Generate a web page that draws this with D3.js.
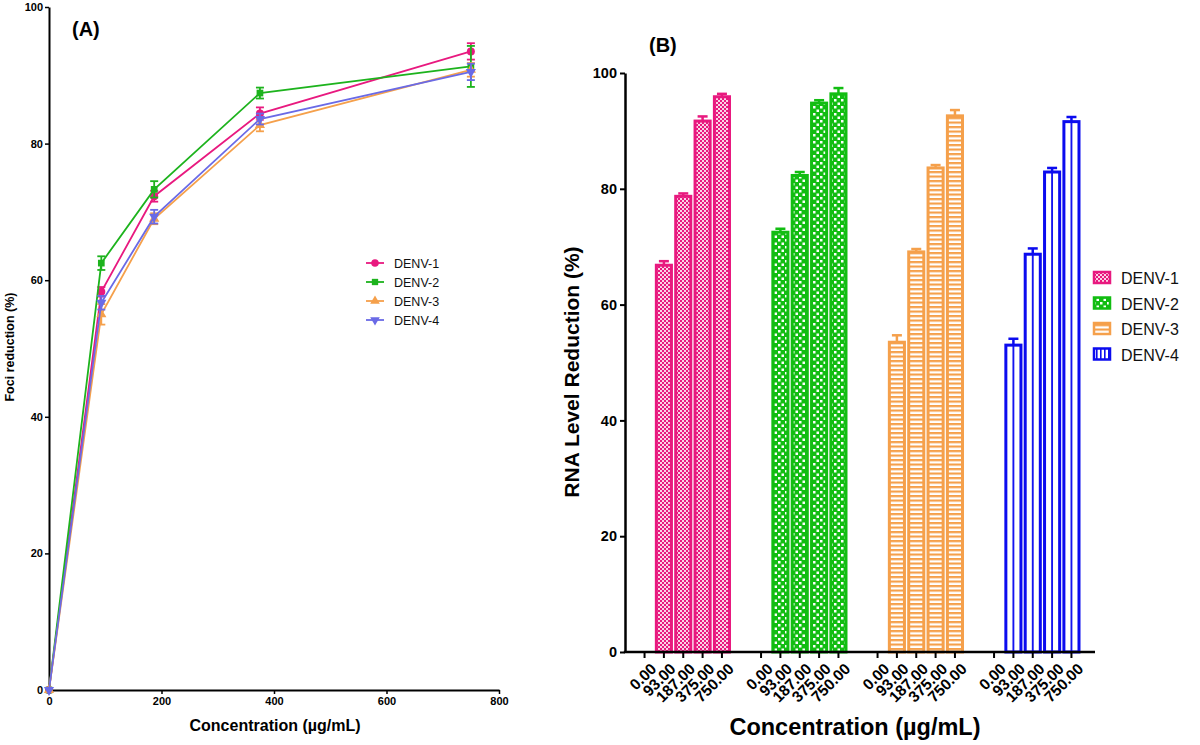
<!DOCTYPE html>
<html>
<head>
<meta charset="utf-8">
<script src="https://cdn.jsdelivr.net/npm/d3@7"></script>
<style>
  body { margin: 0; background: #fff; }
  svg { display: block; font-family: "Liberation Sans", Arial, Helvetica, sans-serif; }
</style>
</head>
<body>
<svg id="chart" width="1200" height="745"></svg>
<script>
// ---------- DATA ----------
const seriesNames = ["DENV-1", "DENV-2", "DENV-3", "DENV-4"];

// Panel A: foci reduction vs concentration
const concA = [0, 93, 187, 375, 750];
const fociDENV1 = [0, 58.3, 72.3, 84.4, 93.5];
const fociDENV2 = [0, 62.5, 73.3, 87.4, 91.3];
const fociDENV3 = [0, 55.0, 69.0, 82.7, 90.8];
const fociDENV4 = [0, 56.7, 69.3, 83.6, 90.5];
const fociErr1 = [0, 0.7, 0.8, 0.9, 1.2];
const fociErr2 = [0, 1.0, 1.2, 0.8, 3.0];
const fociErr3 = [0, 1.5, 0.8, 0.9, 1.0];
const fociErr4 = [0, 1.0, 1.0, 0.8, 1.2];
const xTicksA = [0, 200, 400, 600, 800];
const yTicksA = [0, 20, 40, 60, 80, 100];

// Panel B: RNA level reduction
const concLabels = ["0.00", "93.00", "187.00", "375.00", "750.00"];
const rnaDENV1 = [0, 66.8, 78.7, 91.7, 95.9];
const rnaDENV2 = [0, 72.5, 82.3, 94.8, 96.4];
const rnaDENV3 = [0, 53.5, 69.1, 83.6, 92.6];
const rnaDENV4 = [0, 53.0, 68.7, 82.9, 91.6];
const rnaErr1 = [0, 0.7, 0.5, 0.8, 0.5];
const rnaErr2 = [0, 0.6, 0.6, 0.5, 1.0];
const rnaErr3 = [0, 1.2, 0.5, 0.5, 1.0];
const rnaErr4 = [0, 1.1, 1.0, 0.7, 0.8];
const yTicksB = [0, 20, 40, 60, 80, 100];

const colorsA = ["#e8197f", "#1db31d", "#f5a04b", "#6a6ae6"];
const colorsB = ["#e8197f", "#12bd12", "#f5a04b", "#0b0bef"];
const symbolsA = [d3.symbolCircle, d3.symbolSquare, d3.symbolTriangle, d3.symbolTriangle];

const svg = d3.select("#chart");
const font = "'Liberation Sans', Arial, Helvetica, sans-serif";

// ---------- PANEL A ----------
const xA = d3.scaleLinear().domain([0, 800]).range([49, 499]);
const yA = d3.scaleLinear().domain([0, 100]).range([690, 7]);

const gA = svg.append("g");
const axA_x = gA.append("g").attr("transform", `translate(0,${yA(0)})`)
  .call(d3.axisBottom(xA).tickValues(xTicksA).tickSize(4).tickSizeOuter(0).tickPadding(3));
const axA_y = gA.append("g").attr("transform", `translate(${xA(0)},0)`)
  .call(d3.axisLeft(yA).tickValues(yTicksA).tickSize(4).tickSizeOuter(0).tickPadding(2));
[axA_x, axA_y].forEach(a => {
  a.select(".domain").attr("stroke", "#000").attr("stroke-width", 2);
  a.selectAll(".tick line").attr("stroke", "#000").attr("stroke-width", 1.5);
  a.selectAll("text").attr("font-family", font).attr("font-weight", "bold").attr("font-size", 11).attr("fill", "#000");
});

const fociSeries = [fociDENV1, fociDENV2, fociDENV3, fociDENV4];
const fociErrs = [fociErr1, fociErr2, fociErr3, fociErr4];
const lineA = d3.line().x((d, i) => xA(concA[i])).y(d => yA(d));

fociSeries.forEach((vals, s) => {
  const g = gA.append("g");
  g.append("path").datum(vals).attr("d", lineA).attr("fill", "none")
    .attr("stroke", colorsA[s]).attr("stroke-width", 1.8);
  vals.forEach((v, i) => {
    const e = fociErrs[s][i];
    if (e > 0) {
      const x = xA(concA[i]);
      g.append("line").attr("x1", x).attr("x2", x).attr("y1", yA(v - e)).attr("y2", yA(v + e))
        .attr("stroke", colorsA[s]).attr("stroke-width", 1.8);
      [v - e, v + e].forEach(c => g.append("line").attr("x1", x - 4).attr("x2", x + 4)
        .attr("y1", yA(c)).attr("y2", yA(c)).attr("stroke", colorsA[s]).attr("stroke-width", 1.8));
    }
  });
  g.selectAll("path.sym").data(vals).enter().append("path").attr("class", "sym")
    .attr("d", d3.symbol().type(symbolsA[s]).size(s === 0 ? 50 : 45))
    .attr("transform", (d, i) => `translate(${xA(concA[i])},${yA(d)})${s === 3 ? " rotate(180)" : ""}`)
    .attr("fill", colorsA[s]);
});

gA.append("text").attr("x", 72).attr("y", 36).attr("font-family", font)
  .attr("font-weight", "bold").attr("font-size", 20).text("(A)");
gA.append("text").attr("x", 275).attr("y", 731).attr("text-anchor", "middle").attr("font-family", font)
  .attr("font-weight", "bold").attr("font-size", 16).text("Concentration (µg/mL)");
gA.append("text").attr("transform", "translate(14,347) rotate(-90)").attr("text-anchor", "middle")
  .attr("font-family", font).attr("font-weight", "bold").attr("font-size", 12.5).text("Foci reduction (%)");

// legend A
const legA = gA.append("g");
seriesNames.forEach((n, s) => {
  const y = 263 + s * 19;
  legA.append("line").attr("x1", 366).attr("x2", 384).attr("y1", y).attr("y2", y)
    .attr("stroke", colorsA[s]).attr("stroke-width", 1.8);
  legA.append("path").attr("d", d3.symbol().type(symbolsA[s]).size(s === 0 ? 45 : 40))
    .attr("transform", `translate(375,${y})${s === 3 ? " rotate(180)" : ""}`).attr("fill", colorsA[s]);
  legA.append("text").attr("x", 394).attr("y", y + 4.5).attr("font-family", font)
    .attr("font-size", 12.5).attr("fill", "#111").text(n);
});

// ---------- PANEL B ----------
const defs = svg.append("defs");
const p1 = defs.append("pattern").attr("id", "pat1").attr("patternUnits", "userSpaceOnUse").attr("width", 4).attr("height", 4);
p1.append("rect").attr("width", 4).attr("height", 4).attr("fill", "#fbd3e6");
p1.append("rect").attr("width", 2).attr("height", 2).attr("fill", colorsB[0]);
p1.append("rect").attr("x", 2).attr("y", 2).attr("width", 2).attr("height", 2).attr("fill", colorsB[0]);
const p2 = defs.append("pattern").attr("id", "pat2").attr("patternUnits", "userSpaceOnUse").attr("width", 7).attr("height", 7);
p2.append("rect").attr("width", 7).attr("height", 7).attr("fill", colorsB[1]);
p2.append("rect").attr("x", 1).attr("y", 1).attr("width", 2.5).attr("height", 2.5).attr("fill", "#fff");
p2.append("rect").attr("x", 4.5).attr("y", 4.5).attr("width", 2.5).attr("height", 2.5).attr("fill", "#fff");
const p3 = defs.append("pattern").attr("id", "pat3").attr("patternUnits", "userSpaceOnUse").attr("width", 4).attr("height", 4.5);
p3.append("rect").attr("width", 4).attr("height", 4.5).attr("fill", "#fff");
p3.append("rect").attr("width", 4).attr("height", 2.2).attr("fill", colorsB[2]);
const p4 = defs.append("pattern").attr("id", "pat4").attr("patternUnits", "objectBoundingBox")
  .attr("patternContentUnits", "objectBoundingBox").attr("width", 1).attr("height", 1);
p4.append("rect").attr("width", 1).attr("height", 1).attr("fill", "#fff");
p4.append("rect").attr("x", 0.44).attr("width", 0.12).attr("height", 1).attr("fill", colorsB[3]);
const p4l = defs.append("pattern").attr("id", "pat4l").attr("patternUnits", "userSpaceOnUse").attr("width", 4).attr("height", 4);
p4l.append("rect").attr("width", 4).attr("height", 4).attr("fill", "#fff");
p4l.append("rect").attr("width", 1.6).attr("height", 4).attr("fill", colorsB[3]);
const patIds = ["pat1", "pat2", "pat3", "pat4"];
const legPatIds = ["pat1", "pat2", "pat3", "pat4l"];

const yB = d3.scaleLinear().domain([0, 100]).range([652, 73]);
const xGroup = d3.scaleBand().domain(seriesNames).range([625, 1091]).paddingInner(0).paddingOuter(0);
const xInner = d3.scaleBand().domain(concLabels).range([-50.5, 50.5]).padding(0.22);

const gB = svg.append("g");
const rnaSeries = [rnaDENV1, rnaDENV2, rnaDENV3, rnaDENV4];
const rnaErrs = [rnaErr1, rnaErr2, rnaErr3, rnaErr4];

const catKeys = [];
seriesNames.forEach(s => concLabels.forEach(c => catKeys.push(s + "|" + c)));
const catX = k => {
  const [s, c] = k.split("|");
  return xGroup(s) + xGroup.bandwidth() / 2 + xInner(c) + xInner.bandwidth() / 2;
};

rnaSeries.forEach((vals, s) => {
  const gs = gB.append("g");
  vals.forEach((v, i) => {
    if (v <= 0) return;
    const cx = catX(seriesNames[s] + "|" + concLabels[i]);
    const w = xInner.bandwidth();
    const e = rnaErrs[s][i];
    gs.append("line").attr("x1", cx).attr("x2", cx).attr("y1", yB(v)).attr("y2", yB(v + e))
      .attr("stroke", colorsB[s]).attr("stroke-width", 2.5);
    gs.append("line").attr("x1", cx - 5).attr("x2", cx + 5).attr("y1", yB(v + e)).attr("y2", yB(v + e))
      .attr("stroke", colorsB[s]).attr("stroke-width", 2.5);
    gs.append("rect").attr("x", cx - w / 2).attr("y", yB(v)).attr("width", w).attr("height", yB(0) - yB(v))
      .attr("fill", `url(#${patIds[s]})`).attr("stroke", colorsB[s]).attr("stroke-width", 3);
  });
});

const axB_y = gB.append("g").attr("transform", `translate(625,0)`)
  .call(d3.axisLeft(yB).tickValues(yTicksB).tickSize(5).tickSizeOuter(0).tickPadding(3));
const axB_x = gB.append("g").attr("transform", `translate(0,${yB(0)})`);
axB_x.append("line").attr("x1", 623.8).attr("x2", 1095).attr("y1", 0).attr("y2", 0)
  .attr("stroke", "#000").attr("stroke-width", 2.5);
const ticksB = axB_x.selectAll("g.tick").data(catKeys).enter().append("g").attr("class", "tick")
  .attr("transform", d => `translate(${catX(d)},0)`);
ticksB.append("line").attr("y1", 0).attr("y2", 6).attr("stroke", "#000").attr("stroke-width", 2);
ticksB.append("text").attr("transform", "translate(5,10) rotate(-45)").attr("text-anchor", "end")
  .attr("dy", "0.71em").attr("font-family", font).attr("font-weight", "bold").attr("font-size", 15.5)
  .text(d => d.split("|")[1]);

axB_y.select(".domain").attr("stroke", "#000").attr("stroke-width", 2.5);
axB_y.selectAll(".tick line").attr("stroke", "#000").attr("stroke-width", 2);
axB_y.selectAll("text").attr("font-family", font).attr("font-weight", "bold").attr("font-size", 14.5).attr("fill", "#000");

gB.append("text").attr("x", 649).attr("y", 52).attr("font-family", font)
  .attr("font-weight", "bold").attr("font-size", 20).text("(B)");
gB.append("text").attr("x", 855).attr("y", 735).attr("text-anchor", "middle").attr("font-family", font)
  .attr("font-weight", "bold").attr("font-size", 23.5).text("Concentration (µg/mL)");
gB.append("text").attr("transform", "translate(579,372) rotate(-90)").attr("text-anchor", "middle")
  .attr("font-family", font).attr("font-weight", "bold").attr("font-size", 21).text("RNA Level Reduction (%)");

seriesNames.forEach((n, s) => {
  const y = 278 + s * 25.5;
  gB.append("rect").attr("x", 1094).attr("y", y - 6).attr("width", 16).attr("height", 11)
    .attr("fill", `url(#${legPatIds[s]})`).attr("stroke", colorsB[s]).attr("stroke-width", 2.5);
  gB.append("text").attr("x", 1121).attr("y", y + 6).attr("font-family", font)
    .attr("font-size", 16).attr("fill", "#111").text(n);
});
</script>
</body>
</html>
